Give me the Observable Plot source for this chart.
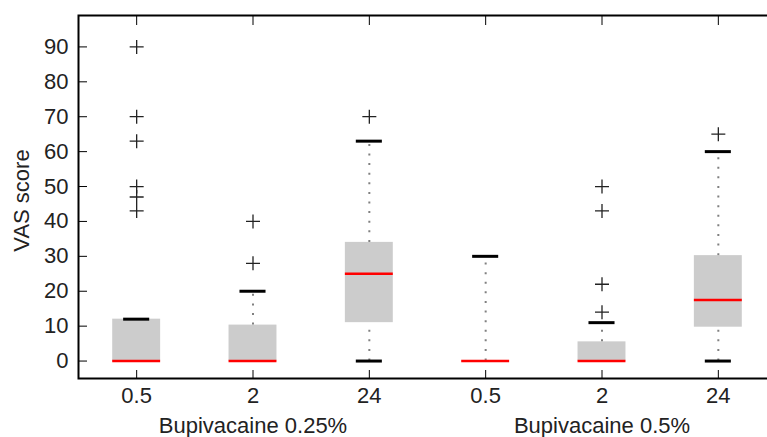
<!DOCTYPE html>
<html>
<head>
<meta charset="utf-8">
<script src="https://cdn.jsdelivr.net/npm/d3@7"></script>
<script src="https://cdn.jsdelivr.net/npm/@observablehq/plot@0.6"></script>
<style>
  html, body { margin: 0; padding: 0; background: #fff; overflow: hidden; }
  #chart { width: 767px; height: 437px; overflow: hidden; }
  #chart svg { max-width: none !important; width: 790px !important; height: 437px !important; display: block; }
</style>
</head>
<body>
<div id="chart"></div>
<script>
// ---- data ----
const groupLabels = ["Bupivacaine 0.25%", "Bupivacaine 0.5%"];
const groupCenters = [1, 4];            // category index under each group label
const timeLabels = ["0.5", "2", "24", "0.5", "2", "24"];
const q1 =          [0,    0,    11,  0,  0,   9.7];
const median =      [0,    0,    25,  0,  0,   17.5];
const q3 =          [12,   10.3, 34,  0,  5.5, 30.2];
const whiskerLow =  [0,    0,    0,   0,  0,   0];
const whiskerHigh = [12,   20,   63,  30, 11,  60];
const outliers = [
  [90, 70, 63, 50, 47, 43],
  [40, 28],
  [70],
  [],
  [50, 43, 22, 14],
  [65]
];
const yTicks = [0, 10, 20, 30, 40, 50, 60, 70, 80, 90];

// ---- derived tables ----
const boxes = timeLabels.map((t, i) => ({
  i, q1: q1[i], median: median[i], q3: q3[i], lo: whiskerLow[i], hi: whiskerHigh[i]
}));
const outlierRows = outliers.flatMap((vals, i) => vals.map(v => ({i, v})));
const groupRows = groupLabels.map((g, k) => ({label: g, x: groupCenters[k]}));

const boxHalf = 0.206;
const capHalf = 0.112;

// thin "+" symbol
const thinPlus = {
  draw(ctx, size) {
    const r = Math.sqrt(size / Math.PI);
    ctx.moveTo(-r, 0); ctx.lineTo(r, 0);
    ctx.moveTo(0, -r); ctx.lineTo(0, r);
  }
};

const font = "Liberation Sans, Arial, Helvetica, sans-serif";
const textColor = "#222";
const idx = timeLabels.map((_, i) => i);

const chart = Plot.plot({
  width: 790,
  height: 437,
  marginLeft: 78,
  marginRight: 14,
  marginTop: 15,
  marginBottom: 59,
  style: {fontFamily: font, fontSize: "22px", color: textColor, background: "#fff"},
  x: {type: "linear", domain: [-0.5, 5.5], axis: null},
  y: {domain: [-5, 99], axis: null},
  marks: [
    // boxes
    Plot.rect(boxes, {x1: d => d.i - boxHalf, x2: d => d.i + boxHalf, y1: "q1", y2: "q3", fill: "#cccccc"}),
    // whiskers (dotted)
    Plot.ruleX(boxes.filter(d => d.hi > d.q3), {x: "i", y1: "q3", y2: "hi", stroke: "#808080", strokeWidth: 2, strokeDasharray: "2 7.6"}),
    Plot.ruleX(boxes.filter(d => d.lo < d.q1), {x: "i", y1: "lo", y2: "q1", stroke: "#808080", strokeWidth: 2, strokeDasharray: "2 7.6"}),
    // caps
    Plot.ruleY(boxes, {y: "hi", x1: d => d.i - capHalf, x2: d => d.i + capHalf, stroke: "#000", strokeWidth: 3}),
    Plot.ruleY(boxes.filter(d => d.lo < d.median), {y: "lo", x1: d => d.i - capHalf, x2: d => d.i + capHalf, stroke: "#000", strokeWidth: 3}),
    // medians
    Plot.ruleY(boxes, {y: "median", x1: d => d.i - boxHalf, x2: d => d.i + boxHalf, stroke: "#ff0000", strokeWidth: 2.5}),
    // outliers
    Plot.dot(outlierRows, {x: "i", y: "v", symbol: thinPlus, r: 7, fill: "none", stroke: "#222", strokeWidth: 1.3}),
    // frame
    Plot.frame({stroke: "#000", strokeWidth: 2}),
    // axes: ticks (inward)
    Plot.axisY(yTicks, {anchor: "left", tickSize: -9, tickFormat: () => "", stroke: "#000"}),
    Plot.axisY(yTicks, {anchor: "right", tickSize: -9, tickFormat: () => "", stroke: "#000"}),
    Plot.axisX(idx, {anchor: "bottom", tickSize: -8, tickFormat: () => "", stroke: "#000"}),
    Plot.axisX(idx, {anchor: "top", tickSize: -9, tickFormat: () => "", stroke: "#000"}),
    // axes: labels
    Plot.axisY(yTicks, {anchor: "left", tickSize: 0, tickPadding: 10, fontSize: 22, fill: textColor, label: null}),
    Plot.axisX(idx, {anchor: "bottom", tickSize: 0, tickPadding: 9, fontSize: 22, fill: textColor, tickFormat: i => timeLabels[i], label: null}),
    // group labels
    Plot.text(groupRows, {x: "x", text: "label", frameAnchor: "bottom", lineAnchor: "top", dy: 39, fontSize: 22, fill: textColor}),
    // y axis title
    Plot.text(["VAS score"], {frameAnchor: "left", rotate: -90, dx: -57, dy: 3.5, fontSize: 22, fill: textColor, textAnchor: "middle", lineAnchor: "middle"})
  ]
});
document.getElementById("chart").appendChild(chart);
</script>
</body>
</html>
